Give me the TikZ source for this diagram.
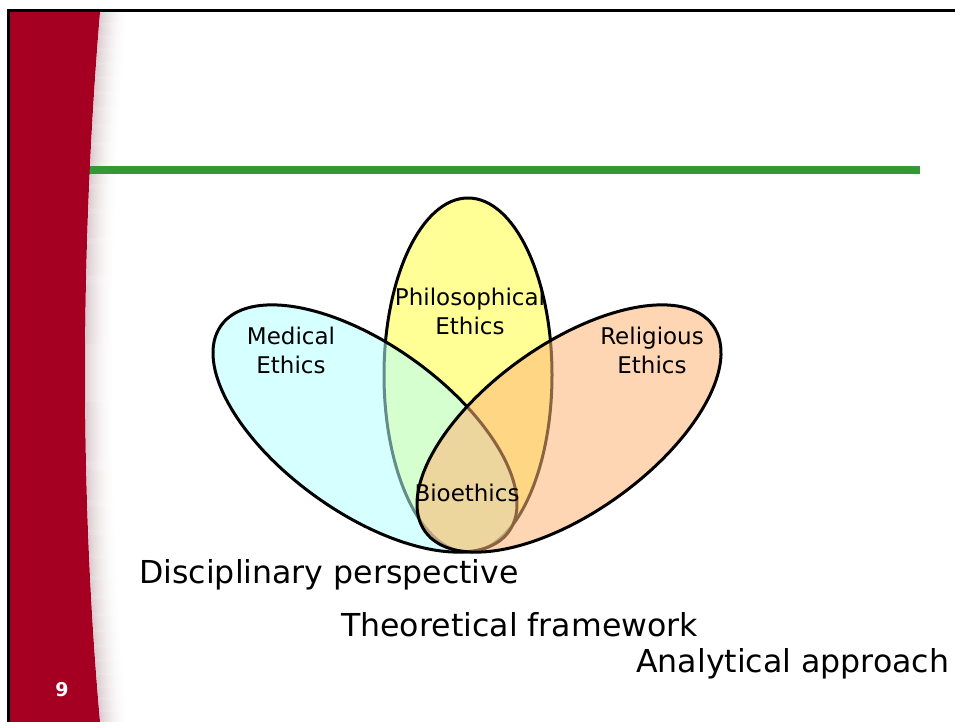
\documentclass[tikz,border=0pt]{standalone}
\usepackage{fontspec}
\setmainfont{DejaVu Sans}
\usetikzlibrary{shapes.geometric}
\definecolor{slidered}{RGB}{165,0,33}
\definecolor{slidegreen}{RGB}{51,153,51}
\definecolor{shadowcol}{RGB}{185,155,160}
\definecolor{medfill}{RGB}{182,255,255}
\definecolor{philfill}{RGB}{255,255,64}
\definecolor{relfill}{RGB}{255,182,119}
\begin{document}
\begin{tikzpicture}[x=1pt,y=1pt,
  petal/.style={ellipse, draw=black, line width=3pt, fill opacity=0.55, draw opacity=1,
    minimum width=354pt, minimum height=168pt, inner sep=0pt},
  lbl/.style={font=\fontsize{23}{29}\selectfont, align=center, inner sep=0pt},
  big/.style={font=\fontsize{31.6}{37}\selectfont, inner sep=0pt, anchor=base west}]
\useasboundingbox (0,0) rectangle (955,722);
\fill[white] (0,0) rectangle (955,722);
% soft shadow beside the red band
\foreach \i in {1,...,30}{
  \pgfmathtruncatemacro\k{55*(1-\i/31)^2}
  \begin{scope}[xshift=\i pt]
    \draw[shadowcol!\k!white, line width=1.3pt] (100,710) .. controls (80,472) and (80,222) .. (100,0);
  \end{scope}
}
% green rule
\draw[slidegreen, line width=8pt] (89,552) -- (920,552);
% red band
\fill[slidered] (10,0) -- (10,710) -- (100,710) .. controls (80,472) and (80,222) .. (100,0) -- cycle;
% frame
\draw[black, line width=3pt] (8.5,0) -- (8.5,711.5) -- (955,711.5);
% petals
\node[petal, fill=philfill, rotate=90] (phil) at (468,347) {};
\node[petal, fill=medfill, rotate=-35.6] (med) at (365,293.5) {};
\node[petal, fill=relfill, rotate=35.6] (rel) at (569,293.5) {};
% labels
\node[lbl] (medl) at (291,372) {Medical\\Ethics};
\node[lbl] (phill) at (470,411) {Philosophical\\Ethics};
\node[lbl] (rell) at (652,372) {Religious\\Ethics};
\node[lbl, anchor=base] (bio) at (467,220) {Bioethics};
% captions
\node[big] (disc) at (139,138) {Disciplinary perspective};
\node[big] (theo) at (341,85) {Theoretical framework};
\node[big] (anal) at (636,49) {Analytical approach};
% slide number
\node[font=\fontsize{19}{22}\selectfont\bfseries, text=white] (num) at (62,32) {9};
\end{tikzpicture}
\end{document}
